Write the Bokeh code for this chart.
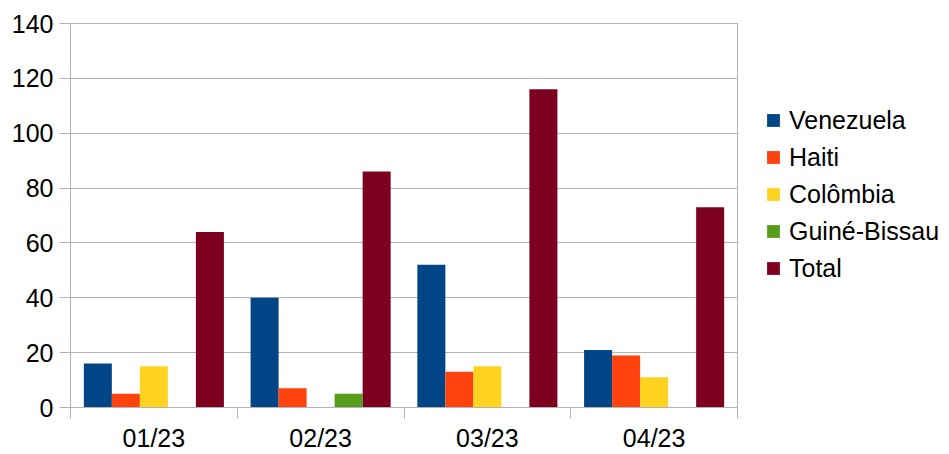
from bokeh.plotting import figure
from bokeh.layouts import row
from bokeh.models import ColumnDataSource, FixedTicker, Legend, LegendItem
from bokeh.transform import dodge
from bokeh.embed import file_html
from bokeh.resources import INLINE

months = ["01/23", "02/23", "03/23", "04/23"]
venezuela = [16, 40, 52, 21]
haiti = [5, 7, 13, 19]
colombia = [15, 0, 15, 11]
guine_bissau = [0, 5, 0, 0]
total = [64, 86, 116, 73]

series = [
    ("Venezuela", venezuela, "#004586"),
    ("Haiti", haiti, "#ff420e"),
    ("Colômbia", colombia, "#ffd320"),
    ("Guiné-Bissau", guine_bissau, "#579d1c"),
    ("Total", total, "#7e0021"),
]

idx = [i + 0.5 for i in range(len(months))]
data = {"x": idx}
for i, (name, vals, col) in enumerate(series):
    data["s%d" % i] = vals
source = ColumnDataSource(data)

FONT = "Liberation Sans"
GRID = "#b3b3b3"
FS = "25px"

p = figure(width=738, height=454, output_backend="svg", toolbar_location=None,
           x_range=(0, len(months)), y_range=(0, 140),
           min_border_left=70, min_border_right=1, min_border_top=23, min_border_bottom=45)
p.outline_line_color = GRID
p.background_fill_color = "white"
p.border_fill_color = "white"

w = 0.168
offsets = [-2 * w, -w, 0, w, 2 * w]
for i, (name, vals, col) in enumerate(series):
    p.vbar(x=dodge("x", offsets[i], range=p.x_range), top="s%d" % i, width=w,
           source=source, fill_color=col, line_color=None)

# y axis
p.yaxis.ticker = FixedTicker(ticks=list(range(0, 141, 20)))
p.yaxis.axis_line_color = GRID
p.yaxis.major_tick_line_color = GRID
p.yaxis.major_tick_out = 11
p.yaxis.major_tick_in = 0
p.yaxis.minor_tick_line_color = None
p.yaxis.major_label_text_font = FONT
p.yaxis.major_label_text_font_size = FS
p.yaxis.major_label_text_color = "#000000"
p.yaxis.major_label_standoff = 6

# x axis
p.xaxis.ticker = FixedTicker(ticks=idx, minor_ticks=list(range(len(months) + 1)))
p.xaxis.major_label_overrides = {v: m for v, m in zip(idx, months)}
p.xaxis.axis_line_color = GRID
p.xaxis.major_tick_line_color = None
p.xaxis.major_tick_out = 0
p.xaxis.major_tick_in = 0
p.xaxis.minor_tick_line_color = GRID
p.xaxis.minor_tick_out = 11
p.xaxis.minor_tick_in = 0
p.xaxis.major_label_text_font = FONT
p.xaxis.major_label_text_font_size = FS
p.xaxis.major_label_text_color = "#000000"
p.xaxis.major_label_standoff = 5

p.xgrid.grid_line_color = None
p.ygrid.ticker = FixedTicker(ticks=list(range(0, 141, 20)))
p.ygrid.grid_line_color = GRID

# legend panel
q = figure(width=211, height=454, output_backend="svg", toolbar_location=None,
           x_range=(0, 1), y_range=(0, 1),
           min_border_left=0, min_border_right=0, min_border_top=0, min_border_bottom=0)
q.axis.visible = False
q.grid.visible = False
q.outline_line_color = None
q.border_fill_color = "white"
q.background_fill_color = "white"
hidden = ColumnDataSource({"x": [-10], "top": [0]})
items = []
for name, vals, col in series:
    r = q.vbar(x="x", top="top", width=0.1, source=hidden, fill_color=col, line_color=None)
    items.append(LegendItem(label=name, renderers=[r], index=0))

legend = Legend(items=items, location=(27, 124))
legend.border_line_color = None
legend.background_fill_alpha = 0
legend.padding = 0
legend.margin = 0
legend.glyph_width = 16
legend.glyph_height = 16
legend.label_height = 30
legend.spacing = 7
legend.label_standoff = 8
legend.label_text_font = FONT
legend.label_text_font_size = FS
legend.label_text_color = "#000000"
q.add_layout(legend, "center")

layout = row(p, q, spacing=0)
open("out.html", "w").write(file_html(layout, INLINE))
